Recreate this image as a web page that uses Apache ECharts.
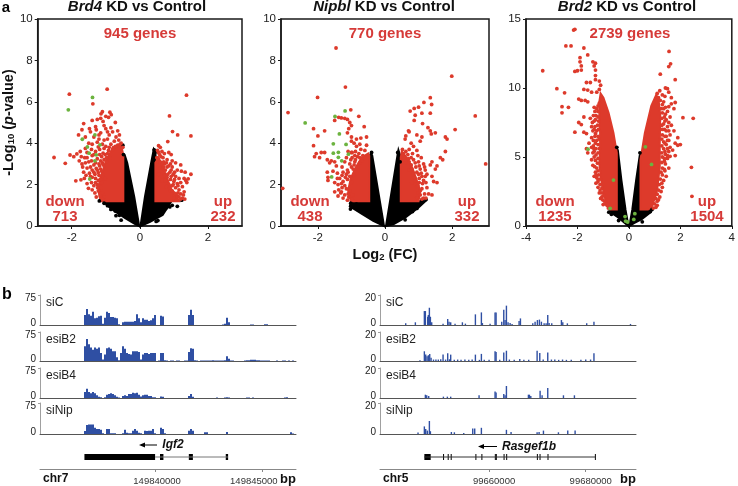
<!DOCTYPE html>
<html>
<head>
<meta charset="utf-8">
<style>html,body{margin:0;padding:0;background:#fff}#chart{width:738px;height:486px}</style>
<script src="https://cdn.jsdelivr.net/npm/echarts@6/dist/echarts.min.js"></script>
</head>
<body>
<div id="chart"></div>
<script>
// volcano plots: dense clouds are outlines, everything else is single genes
const brd4BlackLeft = [[-0.02,0],[-0.165,1.42],[-0.37,3.04],[-0.44,3.4],[-0.5,3.4],[-0.485,1.2],[-1.08,1.2],[-0.95,0.98],[-0.78,0.77],[-0.43,0.38],[-0.15,0.1]]
const brd4BlackRight = [[0.02,0],[0.15,1.42],[0.33,3.04],[0.41,3.72],[0.46,3.6],[0.456,1.2],[0.92,1.17],[0.67,0.53],[0.3,0.2]]
const brd4RedLeft = [[-0.485,1.2],[-1.15,1.2],[-1.22,1.7],[-1.18,2.2],[-1.08,2.7],[-0.98,3.2],[-0.82,3.7],[-0.55,3.95],[-0.485,3.4]]
const brd4RedRight = [[0.456,1.2],[1.15,1.2],[1.05,1.5],[0.92,1.8],[0.78,2.4],[0.66,2.9],[0.55,3.3],[0.456,3.05]]
const brd4Down = [[-0.96,6.61],[-2.07,6.37],[-1.38,5.9],[-1.1,5.52],[-1.14,5.42],[-0.88,5.5],[-0.84,5.38],[-0.92,5.25],[-1.15,5.2],[-1.25,5.15],[-1.08,5.05],[-0.72,5.0],[-1.4,5.1],[-1.65,4.95],[-1.48,4.7],[-1.7,4.65],[-1.8,4.4],[-1.05,4.85],[-1.0,4.7],[-0.65,4.6],[-0.8,4.55],[-1.15,4.5],[-0.9,4.4],[-0.6,4.4],[-0.7,4.3],[-1.35,4.3],[-1.2,4.2],[-1.05,4.15],[-0.95,4.2],[-0.75,4.1],[-0.55,4.0],[-0.62,4.15],[-1.25,4.05],[-1.5,4.0],[-1.1,3.95],[-0.85,3.95],[-0.65,3.9],[-0.5,3.8],[-0.78,3.78],
[-2.05,3.43],[-1.94,3.35],[-1.85,3.48],[-2.52,3.31],[-2.19,3.03],[-1.72,3.35],[-1.62,3.3],[-1.55,3.55],[-1.42,3.7],[-1.3,3.6],[-1.18,3.7],[-1.05,3.75],[-0.92,3.65],[-1.6,3.05],[-1.5,3.1],[-1.42,3.15],[-1.25,3.25],[-1.12,3.35],[-1.02,3.45],[-0.88,3.3],[-1.68,2.85],[-1.55,2.8],[-1.45,2.85],[-1.35,2.95],[-1.2,3.0],[-1.1,3.05],[-0.98,3.1],[-1.48,2.55],[-1.35,2.6],[-1.25,2.7],[-1.15,2.75],[-1.05,2.9],[-1.88,2.18],[-1.73,2.23],[-1.63,2.3],[-1.51,1.82],[-1.55,2.05],[-1.42,2.1],[-1.3,2.3],[-1.2,2.45],[-1.1,2.5],[-1.35,1.95],[-1.25,2.0],[-1.15,1.85],[-1.22,1.7],[-1.1,1.6],[-1.12,2.1],[-1.02,2.3],[-1.05,1.4],[-1.1,1.3],[-1.16,1.45],[-1.24,1.85],
[-1.28,1.4],[-1.32,1.6],[-1.4,1.75],[-1.3,2.1],[-1.22,2.2],[-1.16,2.25],[-1.4,2.35],[-1.32,2.5],[-1.22,2.58],[-1.28,2.78],[-1.12,2.65],[-1.18,2.9],[-1.08,2.98],[-1.3,3.05],[-1.15,3.15],[-1.05,3.2],[-0.98,3.3],[-1.18,3.45],[-1.08,3.52],[-0.95,3.5],[-1.0,3.85],[-0.9,3.8],[-0.8,3.7],[-0.72,3.85],[-0.58,3.95],[-1.22,3.82],[-1.35,3.45],[-1.4,3.4],[-1.55,3.3],[-1.65,2.6],[-1.58,2.45],[-1.45,2.4],[-1.7,3.0],[-1.78,3.15],[-1.4,2.7],
[-1.45,4.55],[-1.6,4.3],[-1.28,4.65],[-1.4,3.95],[-1.6,3.75],[-1.75,3.6],[-1.2,4.4],[-0.95,4.55],[-0.85,4.75],[-1.0,5.3],[-1.3,4.8]]
const brd4Up = [[1.37,6.32],[0.87,5.32],[0.96,4.56],[1.11,4.4],[1.5,4.35],[0.82,4.08],[0.55,3.88],[0.6,3.8],[0.65,3.6],[0.72,3.5],[0.85,3.55],[0.92,3.45],[0.52,3.65],[0.58,3.45],[0.68,3.3],[0.8,3.2],[0.95,3.15],[1.05,3.05],[1.2,2.95],[0.6,3.1],[0.72,3.0],[0.85,2.9],[0.95,2.85],[1.1,2.7],[1.22,2.65],[1.33,2.6],[1.5,2.5],[1.42,2.28],[1.35,2.2],[1.3,2.3],[1.38,2.1],[0.75,2.7],[0.88,2.6],[0.98,2.5],[1.05,2.4],[1.15,2.3],[1.2,2.1],[1.1,2.05],[1.0,2.15],[0.9,2.25],[0.8,2.35],[0.72,2.45],[1.25,1.9],[1.15,1.75],[1.05,1.85],[0.95,1.95],[0.85,2.0],[1.3,1.65],[1.2,1.55],[1.1,1.45],[1.25,1.35],[1.0,1.6],[0.9,1.7],[1.0,1.35],[0.55,2.5],[0.6,2.8],[0.65,2.2],[1.08,1.25],[0.78,1.9],[0.68,2.75],[0.5,3.3],
[0.55,3.55],[0.62,3.35],[0.7,3.1],[0.8,2.85],[0.9,3.0],[0.7,2.85],[0.65,3.0],[0.75,2.2],[0.82,2.5],[0.92,2.4],[1.02,2.25],[0.95,1.7],[1.05,1.55],[1.12,1.6],[1.2,1.3],[1.15,1.4],[1.28,1.5],[0.98,2.0],[1.12,1.95],[0.88,1.85],[1.32,1.3],[0.92,2.7],[1.02,2.6],[0.78,3.05]]
const brd4Black = [[-1.19,1.21],[-1.05,1.1],[-0.95,0.98],[-0.85,0.8],[-0.7,0.5],[-0.55,0.28],[1.23,1.25],[1.1,0.95],[0.95,1.0],[0.88,0.92],[0.53,0.26],[0.48,0.22],[-0.5,3.9],[-0.48,3.45],[0.44,3.55],[0.42,3.68],[0.82,0.95],[0.76,0.85],[-0.72,0.72],[-0.6,0.52]]
const brd4Green = [[-1.39,6.21],[-2.1,5.61],[-1.32,4.4],[-1.69,4.19],[-1.17,3.92],[-1.54,3.82],[-1.49,3.52],[-1.28,3.44],[-1.32,3.15],[-1.47,2.27]]

const nipblBlackLeft = [[-0.03,0],[-0.38,3.4],[-0.42,3.52],[-0.47,3.3],[-0.47,1.2],[-1.0,1.2],[-1.05,0.95],[-0.7,0.6],[-0.35,0.25]]
const nipblBlackRight = [[0.03,0],[0.38,3.5],[0.4,3.67],[0.47,3.3],[0.47,1.2],[1.2,1.2],[1.0,0.9],[0.6,0.4],[0.25,0.08]]
const nipblRedLeft = [[-0.47,1.2],[-1.02,1.2],[-1.1,1.7],[-1.02,2.3],[-0.88,2.8],[-0.7,3.3],[-0.5,3.5],[-0.47,3.4]]
const nipblRedRight = [[0.47,1.2],[1.0,1.2],[1.05,1.7],[0.95,2.2],[0.82,2.8],[0.65,3.3],[0.5,3.6],[0.47,3.3]]
const nipblDown = [[-1.46,8.6],[-1.18,6.71],[-2.01,6.21],[-2.89,5.48],[-1.02,5.61],[-3.05,1.82],[-1.38,5.25],[-1.3,5.22],[-1.2,5.2],[-1.12,5.15],[-0.78,5.3],[-1.5,5.1],[-1.05,5.0],[-1.0,4.85],[-0.62,4.8],[-2.13,4.7],[-1.8,4.6],[-1.08,4.7],[-1.12,4.5],[-2.0,4.35],[-1.0,4.3],[-0.85,4.2],[-0.72,4.25],[-0.55,4.3],[-1.0,4.1],[-0.92,4.0],[-0.75,3.95],[-0.55,3.9],[-0.85,3.85],[-2.13,3.88],[-1.9,3.55],[-1.8,3.55],[-2.05,3.5],[-2.1,3.35],[-1.95,3.3],[-1.72,3.2],[-1.6,3.15],[-1.65,3.05],[-1.5,3.1],[-1.1,3.6],[-1.0,3.55],[-0.88,3.6],[-0.72,3.7],[-0.6,3.65],[-0.98,3.3],[-0.82,3.35],[-0.66,3.4],[-1.2,3.1],[-1.05,3.0],[-0.9,3.1],[-0.75,3.05],[-1.45,2.9],[-1.28,2.85],[-1.12,2.7],[-0.95,2.75],[-0.82,2.85],[-1.72,2.6],[-1.7,2.35],[-1.7,2.2],[-1.55,2.65],[-1.42,2.55],[-1.28,2.45],[-1.15,2.5],[-1.05,2.4],[-0.92,2.45],[-1.5,2.1],[-1.4,2.0],[-1.25,2.15],[-1.12,2.25],[-1.0,2.1],[-1.28,1.85],[-1.38,1.75],[-1.5,1.65],[-1.15,1.8],[-1.05,1.7],[-1.2,1.5],[-1.08,1.4],[-0.97,1.5],[-0.98,1.28],[-1.3,1.65],
[-0.98,3.55],[-0.9,3.4],[-0.78,3.5],[-1.15,3.3],[-1.02,3.2],[-0.92,2.95],[-1.25,2.6],[-1.35,2.3],[-1.18,2.35],[-1.3,2.05],[-1.1,2.6],[-1.2,1.95],[-1.1,1.55],[-1.0,2.85],[-0.88,3.2],[-0.75,3.3],[-0.68,3.15],[-1.42,2.3],[-1.32,1.6],[-1.12,1.25],[-1.25,1.35],[-1.4,1.45]]
const nipblUp = [[1.99,7.24],[2.69,5.32],[3.0,3.0],[2.09,4.66],[1.35,6.2],[1.39,5.87],[1.16,5.97],[1.0,5.74],[0.87,5.68],[0.75,5.55],[0.9,5.35],[1.1,5.45],[1.35,5.45],[0.87,5.1],[1.12,4.95],[1.28,4.75],[1.35,4.6],[1.38,4.45],[1.5,4.5],[1.8,4.3],[1.85,4.2],[0.7,4.6],[0.72,4.55],[0.95,4.4],[1.1,4.3],[0.62,4.35],[0.6,4.2],[1.05,4.1],[0.78,4.0],[0.85,3.85],[0.95,3.65],[1.8,3.6],[1.65,3.3],[1.72,3.2],[1.55,2.9],[1.4,3.1],[1.35,2.95],[1.5,2.75],[1.4,2.4],[1.55,2.1],[1.45,2.15],[1.4,1.5],[1.25,1.85],[1.1,2.4],[1.2,2.7],[1.25,2.5],[0.52,3.7],[0.62,3.6],[0.72,3.7],[0.82,3.5],[0.98,3.4],[1.08,3.3],[0.58,3.3],[0.7,3.25],[0.85,3.2],[1.0,3.1],[1.15,3.0],[0.78,2.95],[0.92,2.85],[1.05,2.75],[0.72,2.7],[0.85,2.55],[1.0,2.5],[1.15,2.2],[1.02,2.1],[0.9,2.2],[0.95,1.9],[1.1,1.8],[1.0,1.6],[1.18,1.55],[0.95,1.35],[1.1,1.3],[0.8,2.1],
[0.55,3.5],[0.68,3.45],[0.78,3.3],[0.9,3.05],[1.02,2.9],[1.18,2.85],[0.8,2.75],[0.95,2.6],[1.08,2.55],[1.2,2.4],[1.02,2.3],[1.12,2.05],[1.22,2.1],[1.05,1.5],[1.15,1.35],[0.98,1.95],[1.05,1.7],[1.22,1.35],[1.3,1.55],[0.72,3.1],[0.88,2.35],[0.6,3.05]]
const nipblBlack = [[-1.02,1.1],[-1.0,0.9],[-1.03,0.82],[-0.85,1.05],[1.22,1.28],[1.1,1.25],[0.95,0.85],[0.6,0.3],[-0.4,3.55],[0.38,3.55],[0.45,3.1],[-0.72,0.72],[0.82,0.7]]
const nipblGreen = [[-1.19,5.56],[-1.49,5.29],[-2.38,4.98],[-1.36,4.45],[-1.54,3.97],[-1.16,3.94],[-1.39,3.56],[-1.09,3.47],[-1.54,3.52],[-1.39,3.32],[-1.29,3.15],[-1.59,2.37]]

const brd2BlackLeft = [[-0.02,0],[-0.13,1.16],[-0.29,3.3],[-0.43,5.5],[-0.47,5.6],[-0.47,1.2],[-0.73,1.2],[-0.68,0.95],[-0.4,0.6],[-0.15,0.2]]
const brd2BlackRight = [[0.02,0],[0.13,1.16],[0.28,3.3],[0.42,5.1],[0.45,5.2],[0.45,1.2],[0.9,1.2],[0.85,1.0],[0.5,0.5],[0.2,0.2]]
const brd2RedLeft = [[-0.47,1.2],[-0.47,5.3],[-0.6,6.75],[-0.79,8.2],[-0.99,9.3],[-1.1,9.6],[-1.15,9.0],[-1.15,8.0],[-1.12,6.8],[-1.12,5.5],[-1.15,4.5],[-1.05,3.0],[-0.9,1.8],[-0.73,1.2]]
const brd2RedRight = [[0.45,1.2],[0.45,4.8],[0.62,6.75],[0.87,8.7],[1.06,9.5],[1.15,9.2],[1.22,8.0],[1.2,6.0],[1.2,4.3],[1.1,2.65],[0.95,1.7],[0.85,1.2]]
const brd2Down = [[-2.1,14.25],[-2.15,14.2],[-2.45,13.05],[-2.25,13.05],[-1.75,12.9],[-1.6,12.4],[-1.9,12.2],[-1.9,11.9],[-1.85,11.6],[-2.0,11.25],[-2.1,11.2],[-1.85,11.3],[-1.4,11.9],[-1.35,11.6],[-1.3,11.8],[-1.3,11.3],[-3.35,11.25],[-1.3,10.9],[-1.3,10.6],[-1.15,10.5],[-1.1,10.2],[-1.65,10.4],[-1.5,10.4],[-1.75,9.9],[-1.6,9.85],[-1.45,9.7],[-1.25,9.7],[-2.8,9.95],[-2.5,9.65],[-1.15,9.9],[-1.85,9.1],[-1.7,9.1],[-1.6,9.0],[-1.95,9.2],[-2.6,8.65],[-2.35,8.6],[-2.6,8.2],[-1.75,7.9],[-1.5,7.8],[-1.95,7.5],[-1.85,7.35],[-2.1,6.8],[-1.75,6.8],[-1.65,6.7],[-1.35,8.6],[-1.38,8.0],[-1.42,7.5],[-1.45,7.2],[-1.4,6.9],[-1.45,6.4],[-1.55,6.0],[-1.65,5.6],[-1.6,5.3],[-1.45,5.7],[-1.4,5.3],[-1.35,5.0],[-1.45,4.8],[-1.4,4.4],[-1.33,4.3],[-1.3,3.9],[-1.35,3.6],[-1.25,3.5],[-1.2,3.2],[-1.2,2.8],[-1.15,2.4],[-1.05,2.1],[-0.95,1.8],[-0.85,1.5],[-1.0,1.55],[-1.35,7.0],[-1.38,6.2],[-1.36,5.6],[-1.28,3.1],[-1.1,2.0],[-0.8,1.3],
[-1.15,8.9],[-1.2,8.7],[-1.25,8.5],[-1.2,8.3],[-1.32,8.3],[-1.28,8.0],[-1.2,7.9],[-1.18,7.6],[-1.3,7.7],[-1.35,7.6],[-1.22,7.3],[-1.32,7.2],[-1.18,7.0],[-1.25,6.9],[-1.3,6.7],[-1.2,6.5],[-1.32,6.5],[-1.16,6.3],[-1.25,6.2],[-1.3,6.0],[-1.38,5.8],[-1.2,5.9],[-1.15,5.6],[-1.28,5.6],[-1.35,5.4],[-1.2,5.3],[-1.28,5.15],[-1.2,4.9],[-1.3,4.75],[-1.22,4.55],[-1.25,4.2],[-1.2,4.0],[-1.18,3.7],[-1.28,3.7],[-1.12,3.4],[-1.2,3.35],[-1.12,3.0],[-1.05,2.75],[-1.12,2.6],[-1.05,2.4],[-0.98,2.2],[-1.02,1.9],[-0.9,1.6],[-0.82,1.55]]
const brd2Up = [[1.56,12.65],[1.62,11.75],[1.55,11.55],[1.22,11.0],[1.8,10.6],[1.42,10.0],[1.5,9.95],[1.55,9.7],[1.2,9.8],[1.1,9.6],[1.4,9.4],[1.3,9.5],[1.65,9.3],[1.8,8.95],[1.65,8.85],[1.55,8.65],[1.75,8.5],[1.35,9.0],[1.5,8.3],[1.42,8.1],[1.6,7.9],[2.1,7.85],[2.5,7.8],[1.55,7.5],[1.65,7.3],[1.75,6.9],[1.9,6.4],[1.6,6.6],[1.55,6.2],[1.8,6.0],[2.0,5.9],[1.9,5.85],[1.7,5.5],[1.55,5.4],[1.6,5.05],[1.8,5.1],[1.5,4.9],[2.43,4.25],[1.55,4.2],[1.4,4.0],[1.45,3.6],[1.35,3.3],[1.3,2.8],[1.25,2.5],[1.2,2.1],[1.1,1.8],[2.45,2.15],[1.4,7.6],[1.38,7.0],[1.45,6.5],[1.4,6.0],[1.42,5.2],[1.38,4.7],[1.1,1.5],[0.95,1.3],[1.05,1.35],
[1.15,9.3],[1.22,9.1],[1.3,8.8],[1.25,8.5],[1.35,8.5],[1.42,8.6],[1.3,8.2],[1.38,7.9],[1.28,7.8],[1.45,7.7],[1.35,7.4],[1.28,7.3],[1.5,7.2],[1.3,7.0],[1.45,6.9],[1.55,6.9],[1.3,6.6],[1.4,6.5],[1.28,6.3],[1.5,6.2],[1.35,6.1],[1.45,5.9],[1.28,5.8],[1.6,5.7],[1.35,5.6],[1.5,5.6],[1.28,5.3],[1.4,5.4],[1.5,5.1],[1.3,5.0],[1.38,4.9],[1.28,4.6],[1.42,4.5],[1.3,4.2],[1.38,4.1],[1.25,3.9],[1.3,3.7],[1.22,3.4],[1.28,3.1],[1.18,3.0],[1.15,2.6],[1.1,2.3],[1.05,2.0],[1.0,1.6],[1.15,1.9]]
const brd2Black = [[-0.78,1.0],[-0.68,0.85],[0.9,1.2],[0.83,1.05],[0.52,0.3],[-0.47,5.7],[0.43,5.3],[-0.4,0.4]]
const brd2Green = [[-1.59,5.57],[-0.6,3.33],[-0.73,1.28],[0.64,5.74],[0.88,4.46],[-0.15,0.68],[-0.13,0.36],[-0.05,0.29],[0.23,0.89],[0.19,0.48]]

const volcanoTicksX = [-2, 0, 2]
const volcanoTitles = ['{i|Brd4} KD vs Control', '{i|Nipbl} KD vs Control', '{i|Brd2} KD vs Control']
const geneCounts = ['945 genes', '770 genes', '2739 genes']
const downCounts = ['713', '438', '1235']
const upCounts = ['232', '332', '1504']

// Igf2 locus coverage, one height per 94 bp bin
const igf2SiC = [0,0,0,0,0,0,0,0,0,0, 0,0,0,0,0,0,0,0,0,0,
  0,0,25,40,27,23,33,17,18,22, 23,3,18,33,30,20,20,18,17,2, 0,7,8,8,8,8,8,10,27,17, 7,17,13,13,10,12,17,25,0,0,
  23,21,0,0,0,0,0,0,0,0, 0,0,0,0,25,38,25,0,0,0, 0,0,0,0,0,0,0,0,0,0, 0,1,3,18,7,0,0,0,0,0,
  0,0,0,0,0,1,1,0,0,0, 0,0,2,2,0,0,0,0,0,0, 0,0,0,0,0,0,0,0]
const igf2EsiB2 = [0,0,0,0,0,0,0,0,0,0, 0,0,0,0,0,0,0,0,0,0,
  0,0,38,57,43,35,29,35,32,35, 21,4,17,33,35,32,25,25,10,2, 21,38,32,21,18,17,25,25,25,23, 4,17,21,21,18,21,21,21,0,1,
  21,21,2,1,0,1,1,0,1,1, 0,0,1,1,23,33,32,2,1,0, 1,1,1,1,1,1,2,1,1,1, 1,1,2,12,6,1,1,0,0,0,
  0,0,1,2,2,3,3,3,2,2, 1,1,1,1,1,0,0,0,1,0, 0,1,1,0,1,0,1,0]
const igf2EsiB4 = [0,0,0,0,0,0,0,0,0,0, 0,0,0,0,0,0,0,0,0,0,
  0,0,15,23,15,12,15,12,7,3, 2,0,2,8,10,12,10,7,3,1, 0,5,7,5,10,10,13,12,13,8, 4,7,8,8,5,5,2,2,0,0,
  4,3,0,0,0,0,0,0,0,0, 0,0,0,0,5,10,3,0,0,0, 0,0,0,0,0,0,0,0,1,0, 0,0,1,2,1,0,0,0,0,0,
  0,0,0,1,1,0,1,0,0,0, 0,0,0,0,0,0,0,0,0,0, 0,0,1,2,0,0,0,0]
const igf2SiNip = [0,0,0,0,0,0,0,0,0,0, 0,0,0,0,0,0,0,0,0,0,
  0,0,7,22,23,23,23,15,12,12, 10,2,0,12,12,2,2,2,0,0, 0,2,10,3,2,2,8,12,8,3, 2,0,8,7,8,8,12,2,0,0,
  15,12,2,0,0,0,0,0,0,0, 0,0,0,0,8,12,8,0,0,0, 0,0,4,4,0,0,0,0,0,0, 0,0,0,5,0,0,0,0,0,0,
  0,0,0,0,0,0,0,0,0,0, 0,0,0,0,0,0,0,0,0,0, 0,0,0,0,0,4,1,0]

// Rasgef1b locus coverage, [kb from 99660000, height]
const rasgefSiC = [[-17.25,1.1],[-15.25,1.8],[-13.39,9.3],[-13.18,9.3],[-12.7,5.5],[-12.56,6.7],[-12.35,11.5],[-12.14,5.5],[-11.87,1.8],[-9.52,0.9],[-8.56,4],[-8.28,2.2],[-7.94,1.8],[-7.04,0.9],[-5.52,1.8],[-4.9,0.9],[-2.83,7.1],[-1.59,8.4],[-1.38,1.3],[0.21,0.9],[1.24,8.4],[1.45,8.4],[2.62,2.2],[3.04,10.2],[3.31,3.3],[3.59,12.9],[3.93,1.8],[4.35,1.3],[4.76,0.7],[6.21,2.7],[6.49,4.4],[9.04,1.1],[9.52,2.2],[10,3.3],[10.42,3.6],[10.83,2.2],[11.39,1.1],[11.8,1.1],[12.14,6.7],[12.42,1.3],[12.97,1.1],[14.97,3.3],[15.25,1.8],[16.2,1.1],[20.2,1.1],[21.7,2.2],[29.26,0.7]]
const rasgefEsiB2 = [[-14.3,0.6],[-13.39,6.7],[-13.11,4.4],[-12.83,3.3],[-12.56,4],[-12.28,4.9],[-12,2.2],[-11.5,1],[-11,1],[-10.5,1],[-10,1.2],[-9.52,4.4],[-9,1],[-8.56,5.3],[-8.2,1.2],[-7.94,4.4],[-7.2,0.8],[-6.5,1],[-5.8,0.8],[-5,1],[-4.2,0.8],[-3.5,1],[-2.83,4.4],[-2,0.8],[-1.59,4.9],[-1,0.8],[0,0.8],[1.24,6.7],[1.45,6.2],[2.2,0.8],[3.04,5.8],[3.59,7.1],[4.2,1],[5.2,0.8],[6.35,1.3],[7.2,0.8],[8.2,0.8],[9.94,7.1],[10.49,5.5],[11.2,1],[12.14,5.8],[12.9,1],[13.6,1],[14.4,0.8],[15.2,1],[16,0.8],[17,0.8],[19,0.8],[20,1],[21,1],[21.7,5.3]]
const rasgefEsiB4 = [[-13.18,2.2],[-12.9,1.8],[-12.49,1.3],[-9.45,0.9],[-8.63,0.9],[-7.94,0.9],[-2.07,1.8],[1.24,4.4],[1.45,3.6],[3.04,2.7],[3.31,1.8],[3.59,8],[8.14,2.2],[8.35,2.2],[8.63,1.3],[10.56,4.9],[10.97,1.8],[12.14,6.7],[15.39,1.8],[17.66,1.8]]
const rasgefSiNip = [[-14.7,0.9],[-13.39,4.9],[-13.11,3.3],[-12.77,2.2],[-12.35,8.4],[-12.14,1.8],[-7.8,1.3],[-7.18,1.1],[-5.24,0.7],[-3.38,3.6],[-2.97,3.6],[-1.59,4],[3.59,2.7],[4.55,1.3],[9.94,1.1],[10.35,1.3],[11.25,2.2],[14.35,1.1],[16.28,2.2],[17.8,2.2]]

const trackNames = ['siC', 'esiB2', 'esiB4', 'siNip']
const igf2Exons = [[149836690,149840000],[149840230,149840390],[149841580,149841770],[149843310,149843420]]
const igf2Span = [[149840000,0.4],[149843420,0.4]]
const igf2Ticks = [149840000, 149845000]
const rasgefExons = [[99646610,99647920],[99650480,99650580],[99651440,99651540],[99652060,99652160],[99657170,99657270],[99658410,99658510],[99661190,99661290],[99661400,99661500],[99663000,99663100],[99663540,99663640],[99669890,99669990],[99670440,99670540],[99672090,99672190],[99681890,99681990]]
const rasgefSpan = [[99646610,0.4],[99681990,0.4]]
const rasgefTicks = [99660000, 99680000]

const font = '"Liberation Sans", Arial, sans-serif'
const red = '#dd3a2b'
const textRed = '#d63a38'
const green = '#6cb33f'
const trackBlue = '#2f4fa3'

var grid = [], xAxis = [], yAxis = [], series = [], graphic = []

function text(x, y, str, size, color, extra) {
  graphic.push({ type: 'text', x: x, y: y, silent: true, style: Object.assign({
    text: str, fontSize: size, fontWeight: 'bold', fontFamily: font, fill: color, textAlign: 'center', textVerticalAlign: 'middle'
  }, extra || {}) })
}

function cloud(points, color, idx) {
  return { type: 'custom', xAxisIndex: idx, yAxisIndex: idx, data: [0], silent: true, clip: false,
    renderItem: (params, api) => ({ type: 'polygon', shape: { points: points.map(d => api.coord(d)) }, style: { fill: color, stroke: color, lineWidth: 2 } }) }
}

function dots(points, color, idx) {
  return { type: 'scatter', xAxisIndex: idx, yAxisIndex: idx, data: points, symbolSize: 3.8, silent: true, itemStyle: { color: color, opacity: 1 } }
}

// 三个火山图
function volcano(i, left, right, xMin, xMax, yMax, yStep, xTicks, sets) {
  var nameRich = {
    b: { fontSize: 14.5, fontWeight: 'bold', fontFamily: font, color: '#111' },
    bi: { fontSize: 14.5, fontWeight: 'bold', fontStyle: 'italic', fontFamily: font, color: '#111' },
    s: { fontSize: 9.5, fontWeight: 'bold', fontFamily: font, color: '#111', verticalAlign: 'bottom', padding: [5, 0, 0, 0] }
  }
  grid.push({ left: left, width: right - left, top: 19, height: 207, show: true, borderColor: '#1a1a1a', borderWidth: 1.5, backgroundColor: '#fff' })
  xAxis.push({ gridIndex: i, type: 'value', min: xMin, max: xMax, splitLine: { show: false },
    axisLine: { onZero: false, lineStyle: { color: '#1a1a1a', width: 1.5 } },
    axisTick: { length: 3, customValues: xTicks, lineStyle: { color: '#1a1a1a' } },
    axisLabel: { customValues: xTicks, fontSize: 11.5, color: '#222', fontFamily: font, margin: 6, hideOverlap: false, showMinLabel: true, showMaxLabel: true },
    name: i == 1 ? '{b|Log}{s|2}{b| (FC)}' : '', nameLocation: 'middle', nameGap: 21, nameTextStyle: { rich: nameRich } })
  yAxis.push({ gridIndex: i, type: 'value', min: 0, max: yMax, interval: yStep, splitLine: { show: false },
    axisLine: { onZero: false, lineStyle: { color: '#1a1a1a', width: 1.5 } },
    axisTick: { length: 3, lineStyle: { color: '#1a1a1a' } },
    axisLabel: { fontSize: 11.5, color: '#222', fontFamily: font, margin: 5 },
    name: i == 0 ? '{b|-Log}{s|10}{b| (}{bi|p}{b|-value)}' : '', nameLocation: 'middle', nameGap: 15, nameRotate: 90, nameTextStyle: { rich: nameRich } })
  series.push(cloud(sets.blackLeft, '#000', i), cloud(sets.blackRight, '#000', i), dots(sets.black, '#000', i),
    cloud(sets.redLeft, red, i), cloud(sets.redRight, red, i), dots(sets.down, red, i), dots(sets.up, red, i), dots(sets.green, green, i))
}

volcano(0, 35, 242, -3, 3, 10, 2, volcanoTicksX, { blackLeft: brd4BlackLeft, blackRight: brd4BlackRight, black: brd4Black, redLeft: brd4RedLeft, redRight: brd4RedRight, down: brd4Down, up: brd4Up, green: brd4Green })
volcano(1, 281, 489, -3.1, 3.1, 10, 2, volcanoTicksX, { blackLeft: nipblBlackLeft, blackRight: nipblBlackRight, black: nipblBlack, redLeft: nipblRedLeft, redRight: nipblRedRight, down: nipblDown, up: nipblUp, green: nipblGreen })
volcano(2, 526, 734, -4, 4, 15, 5, [-4, -2, 0, 2, 4], { blackLeft: brd2BlackLeft, blackRight: brd2BlackRight, black: brd2Black, redLeft: brd2RedLeft, redRight: brd2RedRight, down: brd2Down, up: brd2Up, green: brd2Green })

// 覆盖度轨道
const trackBase = [325, 361, 398, 434]
const trackTop = [295, 332, 368, 403]
var axisIdx = 3

function addTrack(left, right, yMax, yStep) {
  return function (j) {
    grid.push({ left: left, width: right - left, top: trackTop[j], height: trackBase[j] - trackTop[j] })
    yAxis.push({ gridIndex: axisIdx, type: 'value', min: 0, max: yMax, interval: yStep, splitLine: { show: false },
      axisLine: { show: true, onZero: false, lineStyle: { color: '#888', width: 0.8 } },
      axisTick: { show: true, length: 2, customValues: [yMax], lineStyle: { color: '#888', width: 0.8 } },
      axisLabel: { color: '#222', fontFamily: font, margin: 4,
        formatter: v => (v == 0 ? '{z|0}' : '{t|' + v + '}'),
        rich: { z: { fontSize: 10, fontFamily: font, color: '#222', padding: [0, 0, 3, 0] }, t: { fontSize: 10, fontFamily: font, color: '#222', padding: [7, 0, 0, 0] } } } })
  }
}

var categories = igf2SiC.map((v, i) => i)
var igf2Tracks = [igf2SiC, igf2EsiB2, igf2EsiB4, igf2SiNip]
var rasgefTracks = [rasgefSiC, rasgefEsiB2, rasgefEsiB4, rasgefSiNip]

var leftTrack = addTrack(40, 296, 75, 75)
igf2Tracks.forEach((track, j) => {
  leftTrack(j)
  xAxis.push({ gridIndex: axisIdx, type: 'category', data: categories, axisTick: { show: false }, axisLabel: { show: false },
    axisLine: { lineStyle: { color: '#555', width: 1 } } })
  series.push({ type: 'bar', xAxisIndex: axisIdx, yAxisIndex: axisIdx, data: track, barWidth: '100%', silent: true, itemStyle: { color: trackBlue } })
  text(46, trackTop[j] + 8, trackNames[j], 12, '#222', { fontWeight: 'normal', textAlign: 'left' })
  axisIdx++
})

var rightTrack = addTrack(380, 636, 20, 20)
rasgefTracks.forEach((track, j) => {
  rightTrack(j)
  xAxis.push({ gridIndex: axisIdx, type: 'value', min: 99637432, max: 99690400, splitLine: { show: false }, axisTick: { show: false }, axisLabel: { show: false },
    axisLine: { onZero: false, lineStyle: { color: '#555', width: 1 } } })
  series.push({ type: 'bar', xAxisIndex: axisIdx, yAxisIndex: axisIdx, data: track.map(d => [99660000 + d[0] * 1000, d[1]]), barWidth: 1.4, silent: true, itemStyle: { color: trackBlue } })
  text(386, trackTop[j] + 8, trackNames[j], 12, '#222', { fontWeight: 'normal', textAlign: 'left' })
  axisIdx++
})

// 基因模型
function geneModel(left, right, xMin, xMax, ticks, span, exons, lineColor, labelShift) {
  grid.push({ left: left, width: right - left, top: 439, height: 30 })
  xAxis.push({ gridIndex: axisIdx, type: 'value', min: xMin, max: xMax, splitLine: { show: false },
    axisLine: { onZero: false, lineStyle: { color: '#888', width: 1 } },
    axisTick: { length: 3, customValues: ticks, lineStyle: { color: '#888' } },
    axisLabel: { customValues: ticks, color: '#333', fontFamily: font, margin: 7,
      formatter: v => (v == ticks[0] ? '{a|' + v + '}' : '{b|' + v + '}'),
      rich: { a: { fontSize: 9.5, fontFamily: font, color: '#333', padding: labelShift[0] }, b: { fontSize: 9.5, fontFamily: font, color: '#333', padding: labelShift[1] } } } })
  yAxis.push({ gridIndex: axisIdx, type: 'value', min: 0, max: 1, show: false })
  series.push({ type: 'line', xAxisIndex: axisIdx, yAxisIndex: axisIdx, data: span, symbol: 'none', silent: true, lineStyle: { color: lineColor, width: 1 } })
  series.push({ type: 'custom', xAxisIndex: axisIdx, yAxisIndex: axisIdx, data: exons, silent: true, clip: false,
    renderItem: (params, api) => {
      var a = api.coord([api.value(0), 0.4]), b = api.coord([api.value(1), 0.4])
      return { type: 'rect', shape: { x: a[0], y: a[1] - 3, width: Math.max(b[0] - a[0], 1), height: 6 }, style: { fill: '#000' } }
    } })
  axisIdx++
}

geneModel(40, 296, 149834609, 149846600, igf2Ticks, igf2Span, igf2Exons, '#777', [[0, 0, 0, 4], [0, 16, 0, 0]])
geneModel(380, 636, 99637432, 99690400, rasgefTicks, rasgefSpan, rasgefExons, '#333', [[0, 0, 0, 10], [0, 0, 0, 10]])

// 文字
text(6, 8, 'a', 15, '#000')
text(7, 295, 'b', 16, '#000')
var rich = { i: { fontSize: 15, fontWeight: 'bold', fontStyle: 'italic', fontFamily: font, fill: '#111' } }
var titleMid = [137, 384, 627]
var panelMid = [140, 385, 630]
var downX = [65, 310, 555]
var upX = [223, 467, 707]
volcanoTitles.forEach((t, i) => {
  text(titleMid[i], 7, t, 15, '#111', { rich: rich })
  text(panelMid[i], 34, geneCounts[i], 15, textRed)
  text(downX[i], 202, 'down', 15, textRed)
  text(downX[i], 217, downCounts[i], 15, textRed)
  text(upX[i], 202, 'up', 15, textRed)
  text(upX[i], 217, upCounts[i], 15, textRed)
})
text(173, 445, 'Igf2', 12, '#111', { fontStyle: 'italic' })
text(529, 447, 'Rasgef1b', 12, '#111', { fontStyle: 'italic' })
text(43, 479, 'chr7', 12, '#111', { textAlign: 'left' })
text(296, 479, 'bp', 13, '#111', { textAlign: 'right' })
text(383, 479, 'chr5', 12, '#111', { textAlign: 'left' })
text(636, 479, 'bp', 13, '#111', { textAlign: 'right' })
// 箭头
graphic.push({ type: 'polygon', silent: true, shape: { points: [[139,445],[145,442.5],[145,444.5],[157,444.5],[157,445.5],[145,445.5],[145,447.5]] }, style: { fill: '#000' } })
graphic.push({ type: 'polygon', silent: true, shape: { points: [[478,446.5],[484,444],[484,446],[497,446],[497,447],[484,447],[484,449]] }, style: { fill: '#000' } })

var myChart = echarts.init(document.getElementById('chart'))
myChart.setOption({ animation: false, backgroundColor: '#fff', grid: grid, xAxis: xAxis, yAxis: yAxis, series: series, graphic: graphic })
</script>
</body>
</html>
